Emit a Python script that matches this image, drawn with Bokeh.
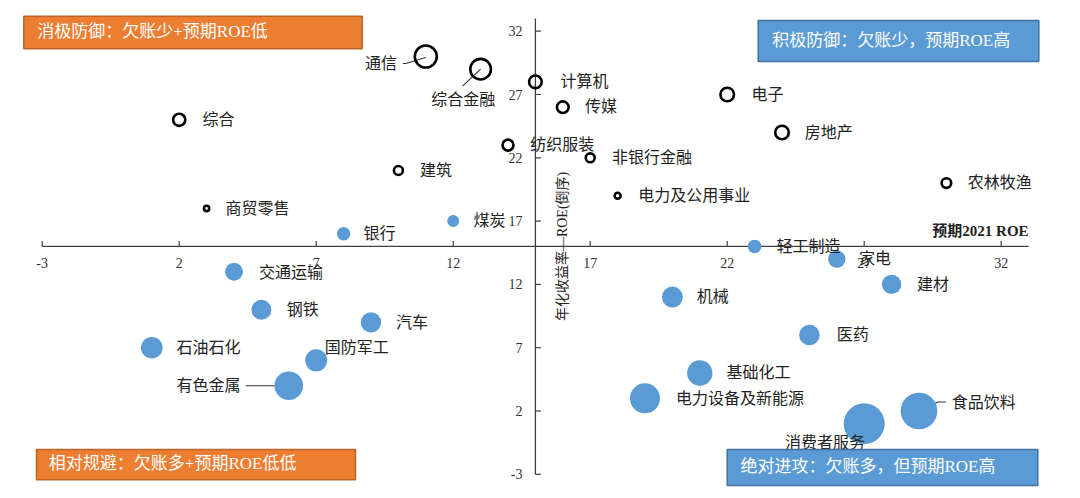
from bokeh.plotting import figure
from bokeh.models import Range1d
from bokeh.core.properties import value
from bokeh.embed import file_html
from bokeh.resources import INLINE
import math

# ---------------- data ----------------
hollow_names = ["通信", "综合金融", "计算机", "传媒", "纺织服装", "非银行金融", "建筑",
                "电力及公用事业", "综合", "商贸零售", "电子", "房地产", "农林牧渔"]
hollow_roe = [11, 13, 15, 16, 14, 17, 10, 18, 2, 3, 22, 24, 30]
hollow_ret = [30, 29, 28, 26, 23, 22, 21, 19, 25, 18, 27, 24, 20]
hollow_bubble = [121, 106, 40, 34, 30, 20, 20, 9, 37, 7, 46, 46, 23]

blue_names = ["银行", "煤炭", "轻工制造", "家电", "建材", "机械", "医药", "基础化工",
              "电力设备及新能源", "消费者服务", "食品饮料", "交通运输", "钢铁", "汽车",
              "石油石化", "国防军工", "有色金属"]
blue_roe = [8, 12, 23, 26, 28, 20, 25, 21, 19, 27, 29, 4, 5, 9, 1, 7, 6]
blue_ret = [16, 17, 15, 14, 12, 11, 8, 5, 3, 1, 2, 13, 10, 9, 7, 6, 4]
blue_bubble = [45, 36, 46, 76, 94, 110, 106, 161, 225, 420, 335, 81, 100, 104, 117, 121, 204]

tick_values = [-3, 2, 7, 12, 17, 22, 27, 32]
tick_labels = ["-3", "2", "7", "12", "17", "22", "27", "32"]
axis_cross = 15
axis_min, axis_max = -3, 33

x_title = "预期2021 ROE"
y_title = "年化收益率—ROE(倒序)"
quad_titles = ["消极防御：欠账少+预期ROE低", "积极防御：欠账少，预期ROE高",
               "相对规避：欠账多+预期ROE低低", "绝对进攻：欠账多，但预期ROE高"]

# ---------------- layout helpers ----------------
W, H = 1080, 498
PX, PY = 27.4, 12.66           # pixels per data unit
X0 = -3 - 41.7 / PX            # data x at left edge
YT = 32 + 30.7 / PY            # data y at top edge


def X(px):
    return X0 + px / PX


def Y(py):
    return YT - py / PY


BLUE = "#5B9BD5"
ORANGE = "#ED7D31"
CJK = "Noto Sans CJK SC"
MIX = "Liberation Serif, Noto Sans CJK SC"
SERIF = "Liberation Serif"

p = figure(width=W, height=H, x_range=Range1d(X0, X0 + W / PX),
           y_range=Range1d(YT - H / PY, YT), output_backend="svg",
           toolbar_location=None, x_axis_location=None, y_axis_location=None,
           min_border=0, outline_line_color=None, background_fill_color="white",
           border_fill_color="white")
p.xgrid.visible = False
p.ygrid.visible = False

# ---------------- axes ----------------
AX = "#404040"
p.segment(x0=[axis_min], y0=[axis_cross], x1=[axis_max], y1=[axis_cross], line_color=AX, line_width=1.3)
p.segment(x0=[axis_cross], y0=[axis_min], x1=[axis_cross], y1=[axis_max], line_color=AX, line_width=1.3)
tl = 5.5
p.segment(x0=tick_values, y0=[axis_cross] * len(tick_values), x1=tick_values,
          y1=[axis_cross + tl / PY] * len(tick_values), line_color=AX, line_width=1.2)
p.segment(x0=[axis_cross] * len(tick_values), y0=tick_values,
          x1=[axis_cross + tl / PX] * len(tick_values), y1=tick_values, line_color=AX, line_width=1.2)
p.text(x=tick_values, y=[axis_cross - 17 / PY] * len(tick_values), text=tick_labels,
       text_font=value(SERIF), text_font_size="14px", text_color="#333333",
       text_align="center", text_baseline="middle")
p.text(x=[axis_cross - 13 / PX] * len(tick_values), y=tick_values, text=tick_labels,
       text_font=value(SERIF), text_font_size="14px", text_color="#333333",
       text_align="right", text_baseline="middle")
p.text(x=[axis_max], y=[axis_cross + 15 / PY], text=[x_title], text_font=value(MIX),
       text_font_size="15px", text_font_style="bold", text_color="#222222",
       text_align="right", text_baseline="middle")
p.text(x=[axis_cross + 27 / PX], y=[axis_cross], text=[y_title], angle=math.pi / 2,
       text_font=value(MIX), text_font_size="14px",
       text_color="#222222", text_align="center", text_baseline="middle")

# ---------------- leader lines (pixel offsets from bubble centre) ----------------
leaders = {
    "通信": [(0, 1), (-20, 7), (-23, 7)],
    "综合金融": [(0, 0), (-18, 17)],
    "有色金属": [(0, 0), (-43, 0)],
    "食品饮料": [(0, 0), (19, -9), (27, -9)],
}
lx, ly = [], []
for names, xs_, ys_ in ((hollow_names, hollow_roe, hollow_ret), (blue_names, blue_roe, blue_ret)):
    for n, xv, yv in zip(names, xs_, ys_):
        if n in leaders:
            lx.append([xv + dx / PX for dx, dy in leaders[n]])
            ly.append([yv - dy / PY for dx, dy in leaders[n]])
p.multi_line(xs=lx, ys=ly, line_color="#333333", line_width=1.1)

# ---------------- bubbles ----------------
p.scatter(x=hollow_roe, y=hollow_ret, size=[2 * math.sqrt(b) for b in hollow_bubble],
          marker="circle", fill_color=None, line_color="black", line_width=2.6)
p.scatter(x=blue_roe, y=blue_ret, size=[2 * math.sqrt(b) for b in blue_bubble],
          marker="circle", fill_color=BLUE, line_color=None)

# ---------------- point labels ----------------
label_offsets = {
    "通信": (-28.7, 7, "right"), "综合金融": (-49.3, 30.7, "left"),
    "计算机": (25, 0, "left"), "传媒": (22.3, 0, "left"), "纺织服装": (22.3, 0, "left"),
    "非银行金融": (21.7, 0, "left"), "建筑": (21.7, 0, "left"),
    "电力及公用事业": (20.7, 0, "left"), "综合": (23.4, 0, "left"),
    "商贸零售": (19, 0, "left"), "电子": (24.4, 0, "left"), "房地产": (22.7, 0, "left"),
    "农林牧渔": (21.3, 0, "left"),
    "银行": (20, 0, "left"), "煤炭": (20.3, 0, "left"), "轻工制造": (22, 0, "left"),
    "家电": (22.3, 0, "left"), "建材": (25.3, 0, "left"), "机械": (24.4, 0, "left"),
    "医药": (27.4, 0, "left"), "基础化工": (26.7, 0, "left"),
    "电力设备及新能源": (31, 0, "left"), "消费者服务": (-79.3, 18.7, "left"),
    "食品饮料": (32.7, -8, "left"), "交通运输": (25, 1.3, "left"), "钢铁": (25.3, 0, "left"),
    "汽车": (25, 0, "left"), "石油石化": (24.7, 0, "left"), "国防军工": (8.6, -12.6, "left"),
    "有色金属": (-48.3, 0, "right"),
}
for align in ("left", "right"):
    tx, ty, tt = [], [], []
    for names, xs_, ys_ in ((hollow_names, hollow_roe, hollow_ret), (blue_names, blue_roe, blue_ret)):
        for n, xv, yv in zip(names, xs_, ys_):
            dx, dy, a = label_offsets[n]
            if a == align:
                tx.append(xv + dx / PX)
                ty.append(yv - (dy - 1.8) / PY)
                tt.append(n)
    p.text(x=tx, y=ty, text=tt, text_font=value(CJK), text_font_size="16px",
           text_color="#222222", text_align=align, text_baseline="middle")

# ---------------- quadrant boxes (screen px) ----------------
boxes = [  # left, right, top, bottom, text-left, text-y
    (23.3, 361.7, 15.7, 48.3, 36.7, 31.0),
    (757.7, 1038.3, 20.0, 61.0, 771.7, 39.5),
    (36.0, 355.0, 449.0, 479.3, 48.3, 463.0),
    (726.7, 1037.3, 449.0, 485.0, 740.0, 466.0),
]
fills = [ORANGE, BLUE, ORANGE, BLUE]
borders = ["#B9652B", "#41719C", "#B9652B", "#41719C"]
p.quad(left=[X(b[0]) for b in boxes], right=[X(b[1]) for b in boxes],
       top=[Y(b[2]) for b in boxes], bottom=[Y(b[3]) for b in boxes],
       fill_color=fills, line_color=borders, line_width=1.5)
p.text(x=[X(b[4]) for b in boxes], y=[Y(b[5]) for b in boxes], text=quad_titles,
       text_font=value(MIX), text_font_size="17px", text_color="white",
       text_align="left", text_baseline="middle")

open("out.html", "w").write(file_html(p, INLINE))
